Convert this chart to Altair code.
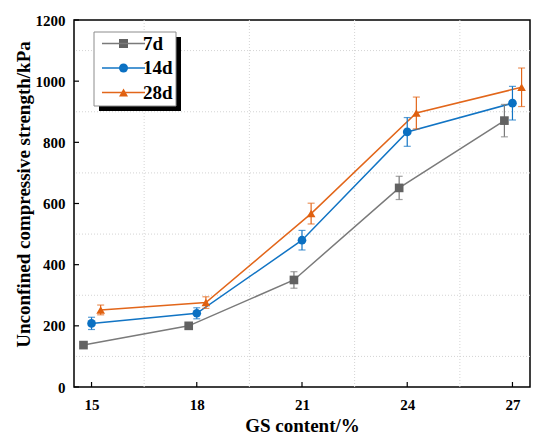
import altair as alt
import pandas as pd

# ---- data ----
gs_content = [15, 18, 21, 24, 27]
series_names = ["7d", "14d", "28d"]
strength_7d = [137, 200, 350, 651, 871]
error_7d = [8, 10, 27, 38, 53]
strength_14d = [208, 241, 480, 834, 928]
error_14d = [20, 18, 32, 47, 55]
strength_28d = [252, 276, 567, 896, 980]
error_28d = [16, 19, 34, 52, 63]

y_ticks = [0, 200, 400, 600, 800, 1000, 1200]
y_minor = [100, 300, 500, 700, 900, 1100]
x_minor = [16.5, 19.5, 22.5, 25.5]

# styling
dodge = {"7d": -0.23, "14d": 0.0, "28d": 0.26}
line_colors = ["#7a7a7a", "#1174c4", "#e2661a"]
marker_colors = ["#626262", "#0a70c2", "#e0600f"]
shapes = ["square", "circle", "triangle-up"]
FONT = "Liberation Serif"
W, H = 456, 367
X_TITLE = "GS content/%"
Y_TITLE = "Unconfined compressive strength/kPa"

rows = []
for name, vals, errs in [("7d", strength_7d, error_7d),
                         ("14d", strength_14d, error_14d),
                         ("28d", strength_28d, error_28d)]:
    for g, v, e in zip(gs_content, vals, errs):
        rows.append({"gs": g, "series": name, "series2": name,
                     "value": v, "lo": v - e, "hi": v + e})
df = pd.DataFrame(rows)

xscale = alt.Scale(domain=[14.5, 27.5], nice=False, zero=False)
yscale = alt.Scale(domain=[0, 1200], nice=False)

x_axis = alt.Axis(values=gs_content, title=X_TITLE, grid=False, ticks=False,
                  domain=False, labelPadding=10, titlePadding=4, format="d")
y_axis = alt.Axis(values=y_ticks, title=Y_TITLE, grid=False, format="d",
                  ticks=False, domain=False, labelPadding=9, titlePadding=2, titleY=174)

base = alt.Chart(df).transform_calculate(
    xpos="datum.gs + (datum.series == '7d' ? %f : (datum.series == '14d' ? %f : %f))"
    % (dodge["7d"], dodge["14d"], dodge["28d"])
)

LX, LY = 40, 14
leg_common = dict(orient="none", legendX=LX, legendY=LY, padding=0, symbolOffset=0,
                  symbolSize=81, labelFont=FONT, labelFontSize=19,
                  labelFontWeight="bold", labelColor="black", labelOffset=10,
                  title=None, rowPadding=4.5)
leg_a = alt.Legend(symbolType="M-4.78,0H4.78", symbolStrokeWidth=1.5, **leg_common)
leg_b = alt.Legend(symbolStrokeWidth=0, labelExpr="''", **leg_common)

grid_style = dict(color="#d4d4d4", strokeDash=[1, 2], strokeWidth=1)
grid_y = alt.Chart(pd.DataFrame({"v": y_minor})).mark_rule(**grid_style).encode(
    y=alt.Y("v:Q", scale=yscale, axis=y_axis))
grid_x = alt.Chart(pd.DataFrame({"v": x_minor})).mark_rule(**grid_style).encode(
    x=alt.X("v:Q", scale=xscale, axis=x_axis))

tick_x = alt.Chart(pd.DataFrame({"t": gs_content})).mark_rule(color="black", strokeWidth=1.2).encode(
    x=alt.X("t:Q", scale=xscale, axis=x_axis), y=alt.value(H), y2=alt.value(H - 5))
tick_y = alt.Chart(pd.DataFrame({"t": y_ticks})).mark_rule(color="black", strokeWidth=1.2).encode(
    y=alt.Y("t:Q", scale=yscale, axis=y_axis), x=alt.value(0), x2=alt.value(5))

lines = base.mark_line(strokeWidth=1.5).encode(
    x=alt.X("xpos:Q", scale=xscale, axis=x_axis),
    y=alt.Y("value:Q", scale=yscale, axis=y_axis),
    color=alt.Color("series:N", scale=alt.Scale(domain=series_names, range=line_colors),
                    sort=series_names, legend=leg_a),
)

errbars = base.mark_errorbar(ticks=True, size=7, thickness=1.2).encode(
    x=alt.X("xpos:Q", scale=xscale, axis=x_axis),
    y=alt.Y("lo:Q", scale=yscale, axis=y_axis),
    y2="hi:Q",
    color=alt.Color("series:N", legend=None),
)

points = base.mark_point(filled=True, size=75, opacity=1, strokeWidth=0).encode(
    x=alt.X("xpos:Q", scale=xscale, axis=x_axis),
    y=alt.Y("value:Q", scale=yscale, axis=y_axis),
    shape=alt.Shape("series2:N", scale=alt.Scale(domain=series_names, range=shapes),
                    sort=series_names, legend=leg_b),
    fill=alt.Fill("series2:N", scale=alt.Scale(domain=series_names, range=marker_colors),
                  sort=series_names, legend=leg_b),
)

# legend frame with drop shadow (decoration)
shadow = alt.Chart(pd.DataFrame({"a": [0]})).mark_rect(color="black").encode(
    x=alt.value(25), x2=alt.value(107), y=alt.value(17), y2=alt.value(91))
legend_box = alt.Chart(pd.DataFrame({"a": [0]})).mark_rect(
    fill="white", stroke="#8c8c8c", strokeWidth=1).encode(
    x=alt.value(20), x2=alt.value(102), y=alt.value(12), y2=alt.value(86))

chart = alt.layer(grid_y, grid_x, tick_x, tick_y, lines, errbars, points,
                  shadow, legend_box).resolve_legend(
    color="independent"
).properties(
    width=W, height=H, background="white",
    autosize=alt.AutoSizeParams(type="none"),
    padding={"left": 66, "top": 12, "right": 12, "bottom": 53},
).configure_view(stroke="black", strokeWidth=1.5).configure_axis(
    labelFont=FONT, labelFontSize=15, labelFontWeight="bold", labelColor="black",
    titleFont=FONT, titleFontSize=19, titleFontWeight="bold", titleColor="black",
)

chart.save("out.html", embed_options={"renderer": "svg", "actions": False})
